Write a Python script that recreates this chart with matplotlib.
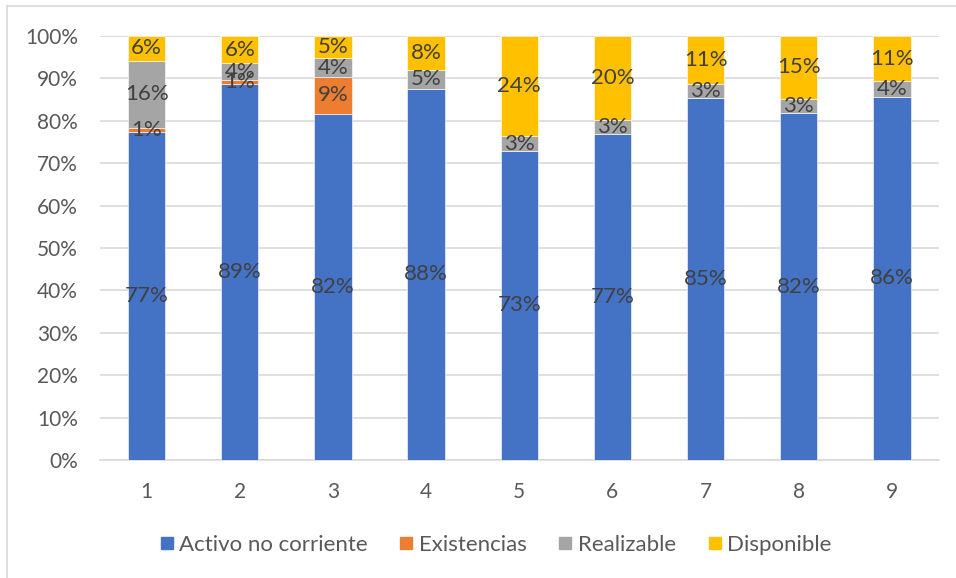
import matplotlib.pyplot as plt
from matplotlib.lines import Line2D
from matplotlib.ticker import FuncFormatter
import numpy as np

plt.rcParams["font.family"] = ["Lato", "DejaVu Sans"]

# data (percent of total assets)
CATEGORIES = ["1", "2", "3", "4", "5", "6", "7", "8", "9"]
ACTIVO_NC = [77.4, 88.6, 81.7, 87.5, 72.9, 76.9, 85.4, 81.8, 85.7]
EXISTENCIAS = [0.9, 1.0, 8.7, 0, 0, 0, 0, 0, 0]
REALIZABLE = [15.9, 4.0, 4.3, 4.6, 3.4, 3.3, 3.3, 3.4, 3.6]
DISPONIBLE = [5.8, 6.4, 5.3, 7.9, 23.7, 19.8, 11.3, 14.8, 10.7]

SERIES = [
    ("Activo no corriente", ACTIVO_NC, "#4472C4"),
    ("Existencias", EXISTENCIAS, "#ED7D31"),
    ("Realizable", REALIZABLE, "#A5A5A5"),
    ("Disponible", DISPONIBLE, "#FFC000"),
]

GRID = "#D9D9D9"
TICK_GREY = "#595959"
LABEL_GREY = "#404040"

fig = plt.figure(figsize=(9.56, 5.78), dpi=100)
ax = fig.add_axes([0.1046, 0.2042, 0.8771, 0.7335])

x = np.arange(len(CATEGORIES))
bottom = np.zeros(len(CATEGORIES))
for name, vals, color in SERIES:
    vals = np.array(vals, dtype=float)
    ax.bar(x, vals, bottom=bottom, width=0.4, color=color, zorder=3,
           edgecolor="white", linewidth=0.4)
    # data labels, centred in each segment (skip empty ones)
    for xi, b, v in zip(x, bottom, vals):
        if v > 0:
            ax.text(xi, b + v / 2, f"{v:.0f}%", ha="center", va="center",
                    fontsize=16, color=LABEL_GREY, zorder=4)
    bottom += vals

ax.set_xlim(-0.5, len(CATEGORIES) - 0.5)
ax.set_ylim(0, 100)
ax.set_yticks(np.arange(0, 101, 10))
ax.yaxis.set_major_formatter(FuncFormatter(lambda v, p: f"{v:.0f}%"))
ax.set_xticks(x)
ax.set_xticklabels(CATEGORIES)

ax.grid(axis="y", color=GRID, lw=1.2, zorder=0)
for s in ["left", "right", "top"]:
    ax.spines[s].set_visible(False)
ax.spines["bottom"].set_color(GRID)
ax.spines["bottom"].set_linewidth(1.2)
ax.tick_params(axis="y", length=0, pad=16, labelsize=15, labelcolor=TICK_GREY)
ax.tick_params(axis="x", length=0, pad=16, labelsize=15, labelcolor=TICK_GREY)

handles = [
    Line2D([], [], marker="s", ls="", markersize=9, color=c, label=n)
    for n, _, c in SERIES
]
fig.legend(handles=handles, loc="center", bbox_to_anchor=(0.516, 0.057),
           ncol=4, frameon=False, fontsize=16, handletextpad=0.05,
           columnspacing=1.25, handlelength=1.0, labelcolor=TICK_GREY)

# chart border
fig.add_artist(Line2D([7 / 956, 7 / 956], [0, 1 - 6 / 578], color=GRID, lw=1.2))
fig.add_artist(Line2D([7 / 956, 1], [1 - 6 / 578, 1 - 6 / 578], color=GRID, lw=1.2))

fig.savefig("out.png", dpi=100)
